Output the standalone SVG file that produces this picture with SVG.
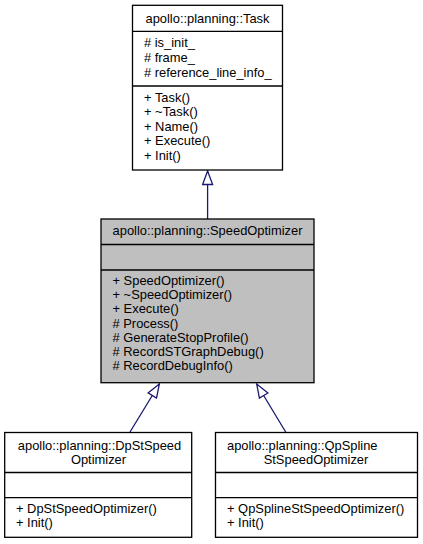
<svg xmlns="http://www.w3.org/2000/svg" width="423" height="544" viewBox="0 0 423 544">
<style>
.box{fill:#ffffff;stroke:#000000;stroke-width:1.3}
.gray{fill:#bfbfbf}
.sep{stroke:#000000;stroke-width:1.3}
text{font-family:"Liberation Sans",Arial,Helvetica,sans-serif;font-size:12.9px;fill:#000000}
.c{text-anchor:middle}
.edge{stroke:#191970;stroke-width:1.3;fill:none}
</style>
<defs>
<marker id="inh" markerWidth="16" markerHeight="12" refX="14.5" refY="6" orient="auto" markerUnits="userSpaceOnUse">
<path d="M14.5,6 L1,1 L1,11 Z" fill="#ffffff" stroke="#191970" stroke-width="1.3"/>
</marker>
</defs>
<rect width="423" height="544" fill="#ffffff"/>
<g id="connectors">
<path class="edge" d="M207.6,219 L207.6,171" marker-end="url(#inh)"/>
<path class="edge" d="M130,432 L159.3,384" marker-end="url(#inh)"/>
<path class="edge" d="M285.7,432 L256.7,384" marker-end="url(#inh)"/>
</g>
<g id="task">
<rect class="box" x="132.5" y="5.3" width="150" height="164.7"/>
<line class="sep" x1="132.5" y1="31.3" x2="282.5" y2="31.3"/>
<line class="sep" x1="132.5" y1="86" x2="282.5" y2="86"/>
<text class="c" x="207.5" y="22.5">apollo::planning::Task</text>
<text x="144" y="46.5"># is_init_</text>
<text x="144" y="61.5"># frame_</text>
<text x="144" y="76.5"># reference_line_info_</text>
<text x="144" y="101.5">+ Task()</text>
<text x="144" y="116.2">+ ~Task()</text>
<text x="144" y="130.8">+ Name()</text>
<text x="144" y="145.4">+ Execute()</text>
<text x="144" y="160">+ Init()</text>
</g>
<g id="speedoptimizer">
<rect class="box gray" x="101" y="219" width="213" height="163.7"/>
<line class="sep" x1="101" y1="244.5" x2="314" y2="244.5"/>
<line class="sep" x1="101" y1="270" x2="314" y2="270"/>
<text class="c" x="207.5" y="235">apollo::planning::SpeedOptimizer</text>
<text x="112.5" y="285">+ SpeedOptimizer()</text>
<text x="112.5" y="299.2">+ ~SpeedOptimizer()</text>
<text x="112.5" y="313.4">+ Execute()</text>
<text x="112.5" y="327.6"># Process()</text>
<text x="112.5" y="341.8"># GenerateStopProfile()</text>
<text x="112.5" y="356"># RecordSTGraphDebug()</text>
<text x="112.5" y="370.2"># RecordDebugInfo()</text>
</g>
<g id="dpstspeedoptimizer">
<rect class="box" x="4.7" y="432.5" width="187" height="104.8"/>
<line class="sep" x1="4.7" y1="472.5" x2="191.7" y2="472.5"/>
<line class="sep" x1="4.7" y1="497.7" x2="191.7" y2="497.7"/>
<text class="c" x="99.5" y="450">apollo::planning::DpStSpeed</text>
<text class="c" x="98.5" y="463.5">Optimizer</text>
<text x="16" y="513">+ DpStSpeedOptimizer()</text>
<text x="16" y="527">+ Init()</text>
</g>
<g id="qpsplinestspeedoptimizer">
<rect class="box" x="215.5" y="432.5" width="202" height="104.8"/>
<line class="sep" x1="215.5" y1="472.5" x2="417.5" y2="472.5"/>
<line class="sep" x1="215.5" y1="497.7" x2="417.5" y2="497.7"/>
<text x="227" y="450">apollo::planning::QpSpline</text>
<text class="c" x="316" y="463.5">StSpeedOptimizer</text>
<text x="227" y="513">+ QpSplineStSpeedOptimizer()</text>
<text x="227" y="527">+ Init()</text>
</g>
</svg>
